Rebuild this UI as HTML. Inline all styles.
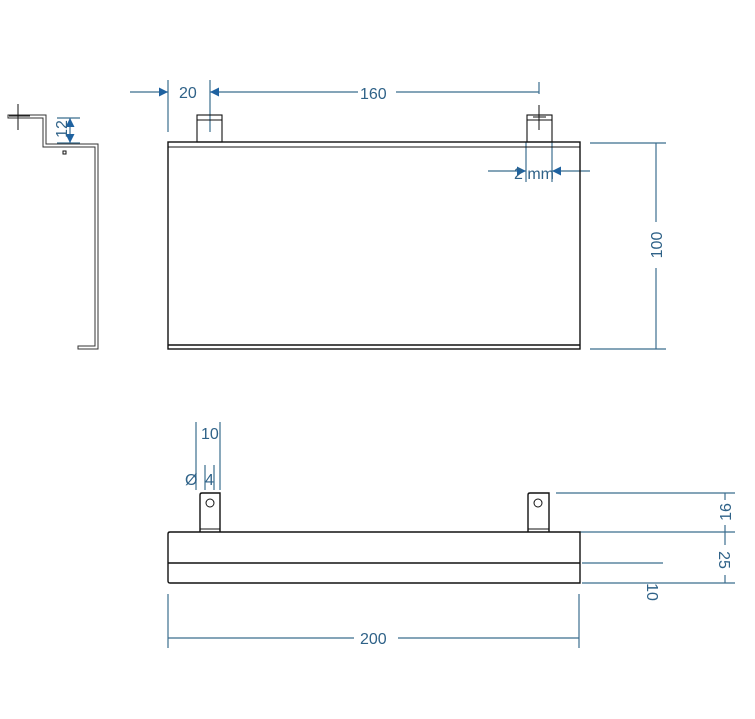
<!DOCTYPE html>
<html><head><meta charset="utf-8"><style>
html,body{margin:0;padding:0;background:#fff;}
svg{display:block;}
text{font-family:"Liberation Sans","DejaVu Sans",sans-serif;fill:#2f6288;font-size:16px;}
</style></head><body>
<svg width="755" height="719" viewBox="0 0 755 719" xmlns="http://www.w3.org/2000/svg">
<defs>
<marker id="ar" viewBox="0 0 10 10" refX="10" refY="5" markerWidth="14" markerHeight="9" orient="auto-start-reverse" markerUnits="userSpaceOnUse"><path d="M0,0 L10,5 L0,10 z" fill="#1f62a0"/></marker>
</defs>
<g stroke="#3b6d8e" stroke-width="1.2" fill="none">
<line x1="130" y1="92" x2="168" y2="92" marker-end="url(#ar)"/>
<line x1="168" y1="80" x2="168" y2="132"/>
<line x1="210" y1="80" x2="210" y2="132"/>
<line x1="250" y1="92" x2="210" y2="92" marker-end="url(#ar)"/>
<line x1="250" y1="92" x2="358" y2="92"/>
<line x1="396" y1="92" x2="539" y2="92"/>
<line x1="539" y1="82" x2="539" y2="94"/>
<line x1="488" y1="171" x2="526" y2="171" marker-end="url(#ar)"/>
<line x1="590" y1="171" x2="552" y2="171" marker-end="url(#ar)"/>
<line x1="526" y1="142" x2="526" y2="182"/>
<line x1="552" y1="142" x2="552" y2="182"/>
<line x1="590" y1="143" x2="666" y2="143"/>
<line x1="590" y1="349" x2="666" y2="349"/>
<line x1="656" y1="143" x2="656" y2="222"/>
<line x1="656" y1="268" x2="656" y2="349"/>
<line x1="57" y1="118" x2="80" y2="118"/>
<line x1="57" y1="143" x2="80" y2="143"/>
<line x1="70" y1="130" x2="70" y2="118" marker-end="url(#ar)"/>
<line x1="70" y1="130" x2="70" y2="143" marker-end="url(#ar)"/>
<line x1="196" y1="422" x2="196" y2="490"/>
<line x1="220" y1="422" x2="220" y2="490"/>
<line x1="205" y1="465" x2="205" y2="490"/>
<line x1="214" y1="465" x2="214" y2="490"/>
<line x1="556" y1="493" x2="735" y2="493"/>
<line x1="580" y1="532" x2="735" y2="532"/>
<line x1="582" y1="563" x2="663" y2="563"/>
<line x1="582" y1="583" x2="735" y2="583"/>
<line x1="725" y1="493" x2="725" y2="500"/>
<line x1="725" y1="525" x2="725" y2="545"/>
<line x1="725" y1="575" x2="725" y2="583"/>
<line x1="168" y1="594" x2="168" y2="648"/>
<line x1="579" y1="594" x2="579" y2="648"/>
<line x1="168" y1="638" x2="354" y2="638"/>
<line x1="398" y1="638" x2="579" y2="638"/>
</g>
<g stroke="#111" stroke-width="1.4" fill="none">
<rect x="168" y="142" width="412" height="207"/>
<line x1="168" y1="147" x2="580" y2="147" stroke-width="1"/>
<line x1="168" y1="345" x2="580" y2="345"/>
<rect x="197" y="115" width="25" height="27" stroke-width="1.1"/>
<line x1="197" y1="120" x2="222" y2="120" stroke-width="1"/>
<rect x="527" y="115" width="25" height="27" stroke-width="1.1"/>
<line x1="527" y1="120" x2="552" y2="120" stroke-width="1"/>
<line x1="539" y1="105" x2="539" y2="130" stroke-width="1"/>
<line x1="533" y1="117" x2="546" y2="117" stroke-width="1"/>
<path d="M8,115 H46 V144 H98 V349 H78 V346 H95 V147 H43 V118 H8 Z" stroke-width="1" stroke="#333"/>
<line x1="18" y1="104" x2="18" y2="130" stroke-width="1"/>
<line x1="9" y1="116" x2="30" y2="116" stroke-width="1"/>
<rect x="63" y="151" width="3" height="3" stroke-width="1"/>
<path d="M170,532 H580 V583 H170 Q168,583 168,581 V534 Q168,532 170,532 Z"/>
<line x1="168" y1="563" x2="580" y2="563"/>
<path d="M200,532 V495 Q200,493 202,493 H220 V532"/>
<line x1="200" y1="529" x2="220" y2="529" stroke-width="1"/>
<circle cx="210" cy="503" r="4" stroke-width="1"/>
<path d="M528,532 V495 Q528,493 530,493 H549 V532"/>
<line x1="528" y1="529" x2="549" y2="529" stroke-width="1"/>
<circle cx="538" cy="503" r="4" stroke-width="1"/>
</g>
<text x="179" y="98" font-size="17">20</text>
<text x="360" y="99" font-size="17">160</text>
<text x="514" y="179" font-size="18">2 mm</text>
<text transform="translate(662,245) rotate(-90)" text-anchor="middle" font-size="17">100</text>
<text transform="translate(67,129) rotate(-90)" text-anchor="middle" font-size="21">12</text>
<text x="201" y="439" font-size="17">10</text>
<text x="185" y="485" font-size="21">Ø</text>
<text x="205" y="485" font-size="19">4</text>
<text transform="translate(731,512) rotate(-90)" text-anchor="middle" font-size="17">16</text>
<text transform="translate(719,560) rotate(90)" text-anchor="middle" font-size="17">25</text>
<text transform="translate(647,592) rotate(90)" text-anchor="middle" font-size="17">10</text>
<text x="360" y="644" font-size="17">200</text>
</svg>
</body></html>
